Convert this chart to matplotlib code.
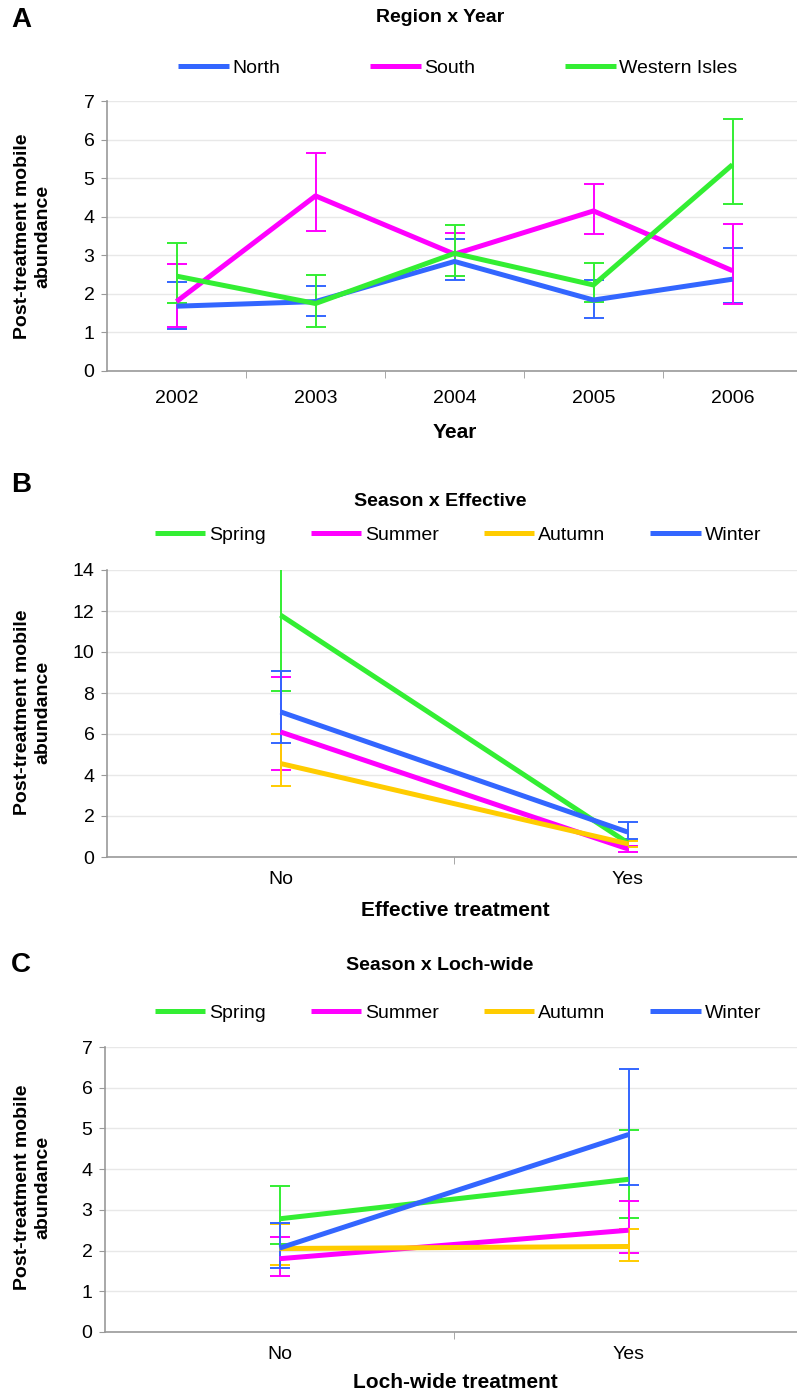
import matplotlib
matplotlib.use("Agg")
import matplotlib.pyplot as plt
from matplotlib.lines import Line2D
from matplotlib.ticker import FixedLocator, MultipleLocator
import numpy as np

plt.rcParams['font.family'] = ['Liberation Sans Narrow', 'Liberation Sans', 'DejaVu Sans']

BLUE = '#3366ff'
MAGENTA = '#ff00ff'
GREEN = '#33ee33'
GOLD = '#ffcc00'

# --- panel A: region x year
years = ['2002', '2003', '2004', '2005', '2006']
north = [1.68, 1.80, 2.84, 1.84, 2.38]
north_lo = [1.10, 1.42, 2.36, 1.38, 1.75]
north_hi = [2.30, 2.20, 3.42, 2.35, 3.18]
south = [1.80, 4.54, 3.03, 4.15, 2.60]
south_lo = [1.13, 3.62, 2.45, 3.54, 1.73]
south_hi = [2.78, 5.65, 3.58, 4.85, 3.81]
west = [2.46, 1.75, 3.05, 2.23, 5.35]
west_lo = [1.77, 1.13, 2.45, 1.78, 4.33]
west_hi = [3.33, 2.48, 3.78, 2.79, 6.54]

# --- panel B: season x effective treatment
treat = ['No', 'Yes']
b_spring = [11.8, 0.70]
b_spring_lo = [8.10, 0.55]
b_spring_hi = [15.5, 0.85]
b_summer = [6.10, 0.40]
b_summer_lo = [4.23, 0.25]
b_summer_hi = [8.76, 0.55]
b_autumn = [4.56, 0.65]
b_autumn_lo = [3.45, 0.50]
b_autumn_hi = [5.99, 0.80]
b_winter = [7.08, 1.22]
b_winter_lo = [5.54, 0.86]
b_winter_hi = [9.05, 1.70]

# --- panel C: season x loch-wide treatment
c_spring = [2.78, 3.75]
c_spring_lo = [2.15, 2.80]
c_spring_hi = [3.59, 4.95]
c_summer = [1.80, 2.50]
c_summer_lo = [1.38, 1.94]
c_summer_hi = [2.33, 3.21]
c_autumn = [2.05, 2.10]
c_autumn_lo = [1.65, 1.74]
c_autumn_hi = [2.65, 2.54]
c_winter = [2.06, 4.85]
c_winter_lo = [1.57, 3.62]
c_winter_hi = [2.68, 6.45]

W, H = 797, 1393


def px(x, y):
    return x / W, 1 - y / H


def draw_panel(ax, cats, series, ymax, ystep):
    n = len(cats)
    x = np.arange(n)
    for name, mean, lo, hi, col in series:
        mean = np.asarray(mean); lo = np.asarray(lo); hi = np.asarray(hi)
        ax.errorbar(x, mean, yerr=[mean - lo, hi - mean], fmt='none',
                    ecolor=col, elinewidth=1.4, capsize=7.5, capthick=1.4,
                    zorder=2)
        ax.plot(x, mean, color=col, lw=3.6, solid_capstyle='butt',
                label=name, zorder=3)
    ax.set_xlim(-0.5, n - 0.5)
    ax.set_ylim(0, ymax)
    ax.yaxis.set_major_locator(MultipleLocator(ystep))
    ax.set_xticks(x)
    ax.set_xticklabels(cats)
    ax.xaxis.set_minor_locator(FixedLocator(np.arange(n - 1) + 0.5))
    ax.tick_params(axis='x', which='major', length=0, pad=14, labelsize=14)
    ax.tick_params(axis='x', which='minor', length=5, color='#999999',
                   direction='out')
    ax.tick_params(axis='y', length=4, color='#999999', labelsize=14, pad=5)
    ax.grid(axis='y', color='#e8e8e8', lw=1)
    ax.set_axisbelow(True)
    for s in ('top', 'right'):
        ax.spines[s].set_visible(False)
    for s in ('left', 'bottom'):
        ax.spines[s].set_color('#999999')
        ax.spines[s].set_linewidth(1.2)


def add_text(fig, letter, title, xlabel, legend_handles, ncol_spacing,
             ax, y_letter, y_title, y_legend, y_xlabel, y_ylabel):
    fig.text(*px(11, y_letter), letter, fontsize=20, fontweight='bold',
             family=['Liberation Sans', 'DejaVu Sans'], va='center', ha='left')
    fig.text(*px(440, y_title), title, fontsize=14, fontweight='bold',
             ha='center', va='center')
    fig.legend(handles=legend_handles, loc='center',
               bbox_to_anchor=px(458, y_legend), ncol=len(legend_handles),
               frameon=False, fontsize=14, handlelength=2.6,
               handletextpad=0.2, columnspacing=ncol_spacing)
    fig.text(*px(455, y_xlabel), xlabel, fontsize=15, fontweight='bold',
             ha='center', va='center')
    fig.text(*px(33, y_ylabel), 'Post-treatment mobile\nabundance',
             fontsize=14, fontweight='bold', rotation=90, ha='center',
             va='center', linespacing=1.25,
             family=['Liberation Sans', 'DejaVu Sans'])


def handles(series):
    return [Line2D([], [], color=s[4], lw=3.6, solid_capstyle='butt',
                   label=s[0]) for s in series]


fig = plt.figure(figsize=(W / 100, H / 100), dpi=100)

# panel A
axA = fig.add_axes([107 / W, 1 - 371 / H, 695 / W, 270 / H])
sA = [('North', north, north_lo, north_hi, BLUE),
      ('South', south, south_lo, south_hi, MAGENTA),
      ('Western Isles', west, west_lo, west_hi, GREEN)]
draw_panel(axA, years, sA, 7, 1)
add_text(fig, 'A', 'Region x Year', 'Year', handles(sA), 4.6, axA,
         20, 18, 68, 433, 236)

# panel B
axB = fig.add_axes([107 / W, 1 - 857 / H, 694 / W, 287 / H])
sB = [('Spring', b_spring, b_spring_lo, b_spring_hi, GREEN),
      ('Summer', b_summer, b_summer_lo, b_summer_hi, MAGENTA),
      ('Autumn', b_autumn, b_autumn_lo, b_autumn_hi, GOLD),
      ('Winter', b_winter, b_winter_lo, b_winter_hi, BLUE)]
draw_panel(axB, treat, sB, 14, 2)
axB.tick_params(axis='x', which='major', pad=10)
add_text(fig, 'B', 'Season x Effective', 'Effective treatment', handles(sB),
         2.3, axB, 485, 502, 535, 910, 712)

# panel C
axC = fig.add_axes([105 / W, 1 - 1332 / H, 698 / W, 285 / H])
sC = [('Spring', c_spring, c_spring_lo, c_spring_hi, GREEN),
      ('Summer', c_summer, c_summer_lo, c_summer_hi, MAGENTA),
      ('Autumn', c_autumn, c_autumn_lo, c_autumn_hi, GOLD),
      ('Winter', c_winter, c_winter_lo, c_winter_hi, BLUE)]
draw_panel(axC, treat, sC, 7, 1)
axC.tick_params(axis='x', which='major', pad=10)
add_text(fig, 'C', 'Season x Loch-wide', 'Loch-wide treatment', handles(sC),
         2.3, axC, 965, 966, 1013, 1383, 1187)

fig.savefig('out.png', dpi=100)
